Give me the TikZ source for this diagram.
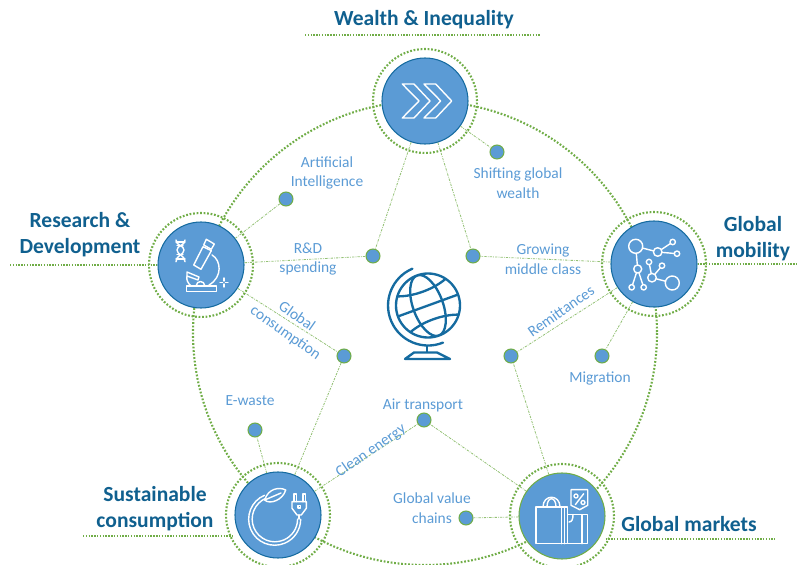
\documentclass[tikz,border=0pt]{standalone}
\usepackage{fontspec}
\setmainfont{Carlito}
\definecolor{hubblue}{HTML}{5B9BD5}
\definecolor{hubedge}{HTML}{156BA0}
\definecolor{titleblue}{HTML}{10608F}
\definecolor{ringgreen}{HTML}{70AD47}
\tikzset{
	hub/.style={circle, fill=hubblue, draw=hubedge, line width=0.9pt, minimum size=2.58cm, inner sep=0pt},
	hubgreen/.style={hub, draw=ringgreen},
	hubring/.style={circle, draw=ringgreen, line width=1.8pt, dash pattern=on 1.5pt off 1.5pt, minimum size=3.12cm, inner sep=0pt},
	bigring/.style={draw=ringgreen, line width=1.8pt, dash pattern=on 1.5pt off 1.5pt},
	spoke/.style={draw=ringgreen!75, line width=0.7pt, dash pattern=on 2pt off 1pt on 0.6pt off 1pt},
	rule/.style={draw=ringgreen, line width=1.3pt, dash pattern=on 1.2pt off 1.2pt},
	dotnode/.style={circle, fill=hubblue, draw=ringgreen, line width=0.9pt, minimum size=0.42cm, inner sep=0pt},
	lbl/.style={text=hubblue, align=center, inner sep=0pt, font=\fontsize{13.2}{16.8}\selectfont},
	titlelbl/.style={text=titleblue, align=center, inner sep=0pt, font=\fontsize{18.4}{22}\selectfont\bfseries},
	icon/.style={draw=white, line width=1.2pt, line join=round, line cap=round},
	globeline/.style={draw=hubedge, line width=2pt}
}
\begin{document}
\begin{tikzpicture}[x=0.03cm, y=-0.03cm]
	\useasboundingbox (0,0) rectangle (798,565);

	% outer circle
	\draw[bigring] (425,333) circle (232);

	% hubs
	\node[hub] (wealth) at (425,101) {};
	\node[hub] (research) at (201,265) {};
	\node[hub] (mobility) at (654,264) {};
	\node[hub] (sustain) at (278,515) {};
	\node[hubgreen] (markets) at (562,516) {};

	\node[hubring] (wealthring) at (wealth) {};
	\node[hubring] (researchring) at (research) {};
	\node[hubring] (mobilityring) at (mobility) {};
	\node[hubring] (sustainring) at (sustain) {};
	\node[hubring] (marketsring) at (markets) {};

	% dots
	\node[dotnode] (shifting) at (497,152) {};
	\node[dotnode] (artificial) at (286,199) {};
	\node[dotnode] (rnd) at (373,256) {};
	\node[dotnode] (growing) at (473,256) {};
	\node[dotnode] (consumption) at (344,356) {};
	\node[dotnode] (remittances) at (511,356) {};
	\node[dotnode] (migration) at (602,356) {};
	\node[dotnode] (ewaste) at (255,430) {};
	\node[dotnode] (air) at (424,420) {};
	\node[dotnode] (chains) at (466,518) {};

	% spokes
	\draw[spoke] (wealth) -- (shifting);
	\draw[spoke] (wealth) -- (rnd);
	\draw[spoke] (wealth) -- (growing);
	\draw[spoke] (research) -- (artificial);
	\draw[spoke] (research) -- (rnd);
	\draw[spoke] (research) -- (consumption);
	\draw[spoke] (mobility) -- (growing);
	\draw[spoke] (mobility) -- (remittances);
	\draw[spoke] (mobility) -- (migration);
	\draw[spoke] (sustain) -- (ewaste);
	\draw[spoke] (sustain) -- (consumption);
	\draw[spoke] (sustain) -- (air);
	\draw[spoke] (markets) -- (air);
	\draw[spoke] (markets) -- (remittances);
	\draw[spoke] (markets) -- (chains);

	% titles and their rules
	\node[titlelbl] (wealthtitle) at (424,20) {Wealth \& Inequality};
	\node[titlelbl] (researchtitle) at (80,235) {Research \&\\Development};
	\node[titlelbl] (mobilitytitle) at (753,239) {Global\\mobility};
	\node[titlelbl] (sustaintitle) at (155,509) {Sustainable\\consumption};
	\node[titlelbl] (marketstitle) at (689,524) {Global markets};

	\coordinate (wealthleft) at (305,35);
	\coordinate (wealthright) at (541,35);
	\coordinate (researchend) at (10,265);
	\coordinate (mobilityend) at (798,264);
	\coordinate (sustainend) at (83,536);
	\coordinate (marketsend) at (775,539);
	\draw[rule] (wealthleft) -- (wealthright);
	\draw[rule] (researchend) -- (research.west |- researchend);
	\draw[rule] (mobility.east |- mobilityend) -- (mobilityend);
	\draw[rule] (sustainend) -- (sustain.west |- sustainend);
	\draw[rule] (markets.east |- marketsend) -- (marketsend);

	% labels
	\node[lbl] (artificiallbl) at (327,173) {Artificial\\Intelligence};
	\node[lbl] (shiftinglbl) at (518,183) {Shifting global\\wealth};
	\node[lbl] (rndlbl) at (308,259) {R\&D\\spending};
	\node[lbl] (growinglbl) at (543,259) {Growing\\middle class};
	\node[lbl, rotate=-35] (consumptionlbl) at (291,325) {Global\\consumption};
	\node[lbl, rotate=35] (remittanceslbl) at (561,311) {Remittances};
	\node[lbl] (migrationlbl) at (600,378) {Migration};
	\node[lbl] (ewastelbl) at (250,401) {E-waste};
	\node[lbl] (airlbl) at (423,405) {Air transport};
	\node[lbl, rotate=35] (cleanlbl) at (371,451) {Clean energy};
	\node[lbl] (chainslbl) at (432,508) {Global value\\chains};

	% chevrons
	\begin{scope}[shift={(425,101)}]
		\draw[icon] (-22.7,-17) -- (-11,-17) -- (5,0) -- (-11,17) -- (-22.7,17) -- (-6,0) -- cycle;
		\draw[icon] (-1,-17) -- (10.7,-17) -- (26.7,0) -- (10.7,17) -- (-1,17) -- (15.7,0) -- cycle;
	\end{scope}

	% microscope
	\begin{scope}[shift={(201,265)}]
		\draw[icon] (-14.7,21) rectangle (15.3,26.7);
		\draw[icon] (5.3,-25.7) -- (13.3,-21) -- (10.3,-15.7) -- (2.7,-20) -- cycle;
		\draw[icon] (2,-18.3) -- (10.3,-14.3) -- (0,4.3) -- (-7.3,0) -- cycle;
		\draw[icon] (11,-10) .. controls (20,-5) and (22,12) .. (8,20);
		\draw[icon] (-14,7) -- (-2,12) -- (-3,15) -- (-14,11) -- cycle;
		\draw[icon] (-14,11) .. controls (-15,15) and (-13,18) .. (-10,21);
		\draw[icon] (-5,21) .. controls (-4,15) and (3,15) .. (4,21);
		\draw[icon] (23,13) -- (23,16);
		\draw[icon] (23,19) -- (23,22);
		\draw[icon] (19,17.5) -- (21.5,17.5);
		\draw[icon] (24.5,17.5) -- (27,17.5);
		% dna
		\draw[icon] (-25,-25) .. controls (-25,-19) and (-17,-20) .. (-17,-15) .. controls (-17,-10) and (-25,-10) .. (-25,-3.3);
		\draw[icon] (-16,-25) .. controls (-16,-19) and (-24,-20) .. (-24,-15) .. controls (-24,-10) and (-16,-10) .. (-16,-3.3);
		\draw[icon] (-25,-23) -- (-16,-23);
		\draw[icon] (-24,-19.5) -- (-18,-19.5);
		\draw[icon] (-24,-10.5) -- (-18,-10.5);
		\draw[icon] (-25,-6) -- (-16,-6);
	\end{scope}

	% network
	\begin{scope}[shift={(654,264)}]
		\draw[icon] (-18.3,-17.7) -- (3.7,-12);
		\draw[icon] (3.7,-12) -- (18.7,-22);
		\draw[icon] (3.7,-12) -- (23,-10.3);
		\draw[icon] (-18.3,-17.7) -- (-16.3,5);
		\draw[icon] (-16.3,5) -- (-22.3,23.3);
		\draw[icon] (-16.3,5) -- (-10.3,23.3);
		\draw[icon] (-5,-2) -- (-2,13.7);
		\draw[icon] (8,1.7) -- (-2,13.7);
		\draw[icon] (-2,13.7) -- (18.3,19);
		\draw[icon, fill=hubblue] (-18.3,-17.7) circle (7);
		\draw[icon, fill=hubblue] (3.7,-12) circle (4.3);
		\draw[icon, fill=hubblue] (18.7,-22) circle (2.7);
		\draw[icon, fill=hubblue] (23,-10.3) circle (2.7);
		\draw[icon, fill=hubblue] (-16.3,5) circle (4);
		\draw[icon, fill=hubblue] (-22.3,23.3) circle (2.7);
		\draw[icon, fill=hubblue] (-10.3,23.3) circle (2.7);
		\draw[icon, fill=hubblue] (-5,-2) circle (2.7);
		\draw[icon, fill=hubblue] (8,1.7) circle (2.7);
		\draw[icon, fill=hubblue] (-2,13.7) circle (4.3);
		\draw[icon, fill=hubblue] (18.3,19) circle (7);
	\end{scope}

	% leaf and plug
	\begin{scope}[shift={(278,515)}]
		\draw[icon] (-13.5,-19.7) arc (247:0:26 and 26);
		\draw[icon] (-12,-16.8) arc (247:0:22.7 and 22.7);
		\draw[icon] (-13.3,-15) .. controls (-10,-26.7) and (1.7,-28.3) .. (7.7,-25) .. controls (5,-15) and (-8.3,-10) .. (-13.3,-15) -- cycle;
		\draw[icon] (-13.3,-15) -- (3,-22);
		\draw[icon] (14,-13.3) -- (28.3,-13.3) -- (28.3,-6.7) -- (23.3,0) -- (19,0) -- (14,-6.7) -- cycle;
		\draw[icon] (16,-13.3) -- (16,-21) -- (18.5,-21) -- (18.5,-13.3);
		\draw[icon] (25,-13.3) -- (25,-21) -- (27.5,-21) -- (27.5,-13.3);
		\draw[icon] (20,-9.5) rectangle (22.5,-7);
		\draw[icon] (21,0) -- (21,4);
	\end{scope}

	% shopping bags
	\begin{scope}[shift={(562,516)}]
		\draw[icon] (-26,-9) rectangle (5.7,27.7);
		\draw[icon] (5.7,-1.3) -- (25.7,-1.3) -- (25.7,27.7) -- (5.7,27.7);
		\draw[icon] (20,-1.3) -- (20,27.7);
		\draw[icon] (-0.7,-9) -- (-0.7,27.7);
		\draw[icon] (2.3,-9) -- (2.3,27.7);
		\draw[icon] (7,6) .. controls (10,6) and (11,3) .. (11,-1.3);
		\draw[icon] (-19,-9) .. controls (-19,-22) and (-2,-22) .. (-2,-9);
		\draw[icon] (-15,-9) .. controls (-15,-20) and (-6,-20) .. (-6,-9);
		\draw[icon] (9,-26.3) -- (25.7,-26.3) -- (25.7,-10.7) -- (17.7,-6.3) -- (9,-10.7) -- cycle;
		\draw[icon] (21.7,-22.3) -- (13.3,-11.3);
		\draw[icon] (14,-20) circle (2);
		\draw[icon] (21,-13.5) circle (2);
	\end{scope}

	% globe
	\begin{scope}[shift={(428,305.5)}]
		\draw[globeline] (0,0) circle (32);
		\begin{scope}[rotate=20]
			\clip (0,0) circle (32);
			\draw[globeline] (0,0) ellipse (15 and 32);
			\draw[globeline] (-33,0) -- (33,0);
			\draw[globeline] (-28,-20) .. controls (-12,-13) and (12,-13) .. (28,-20);
			\draw[globeline] (-28,20) .. controls (-12,13) and (12,13) .. (28,20);
		\end{scope}
		\draw[globeline, line cap=round] (-15.6,-36.8) arc (247:68:40);
		\draw[globeline] (-1,40) -- (-1,47);
		\draw[globeline, line join=round] (-23,53.5) -- (-14,47) -- (9,47) -- (22,53.5) -- cycle;
	\end{scope}
\end{tikzpicture}
\end{document}
